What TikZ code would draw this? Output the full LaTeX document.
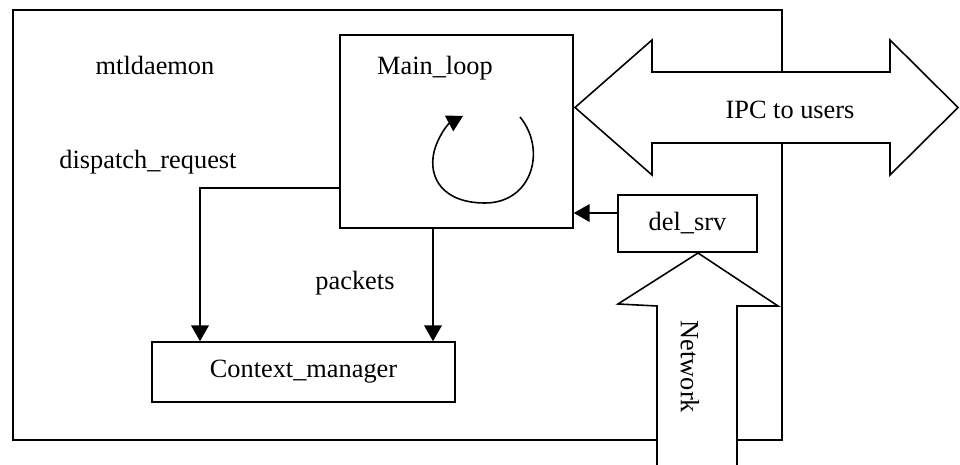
\documentclass[tikz,border=0pt]{standalone}
\usepackage{fontspec}
\setmainfont{Liberation Serif}
\usetikzlibrary{arrows.meta, positioning, calc}

\tikzset{
  box/.style={draw, rectangle, line width=0.9pt, inner sep=0pt},
  conn/.style={line width=0.9pt, -{Triangle[length=9pt, width=10pt]}},
  fatarrow/.style={draw, fill=white, line width=0.9pt, line join=miter},
  lbl/.style={inner sep=1pt}
}

\begin{document}
\begin{tikzpicture}[x=0.02cm, y=-0.02cm, line width=0.9pt,
    font={\fontsize{15}{17}\selectfont}]
    \useasboundingbox (0,0) rectangle (960,465);

    % daemon frame
    \draw (13,10) rectangle (782,440);
    \node[lbl] (daemonlbl) at (155,65) {mtldaemon};
    \node[lbl] (displbl) at (148,162) {dispatch\_request};

    % main loop
    \node[box, minimum width=4.66cm, minimum height=3.86cm]
      (mainloop) at (456.5,131.5) {};
    \node[lbl] (mainlbl) at (435,68) {Main\_loop};
    \draw[-{Triangle[length=9pt, width=10pt]}]
      (520,117) .. controls (547,150) and (532,203) .. (485,203)
      .. controls (443,203) and (428,178) .. (434,152)
      .. controls (438,136) and (448,124) .. (463,116);

    % context manager
    \node[box, minimum width=6.06cm, minimum height=1.2cm]
      (ctxmgr) at (303.5,372) {Context\_manager};

    % del_srv
    \node[box, minimum width=2.78cm, minimum height=1.14cm]
      (delsrv) at (687.5,223.5) {del\_srv};

    % IPC arrow
    \filldraw[fatarrow]
      (575,107.5) -- (652,40) -- (652,72) -- (890,72) -- (890,40)
      -- (958,107.5) -- (890,175) -- (890,143) -- (652,143)
      -- (652,175) -- cycle;
    \node[lbl] (ipclbl) at (790,110) {IPC to users};

    % network arrow
    \filldraw[fatarrow]
      (698,253) -- (778,306) -- (737,306) -- (737,470)
      -- (657,470) -- (657,306) -- (618,304) -- cycle;
    \node[lbl, rotate=-90] (netlbl) at (690,367) {Network};

    % requests and packets
    \draw[conn] (mainloop.west |- 0,188) -| (ctxmgr.north -| 200,0);
    \draw[conn] (mainloop.south -| 433,0) -- (ctxmgr.north -| 433,0);
    \node[lbl] (pktlbl) at (355,283) {packets};
    \draw[conn] (delsrv.west |- 0,213) -- (mainloop.east |- 0,213);
\end{tikzpicture}
\end{document}
